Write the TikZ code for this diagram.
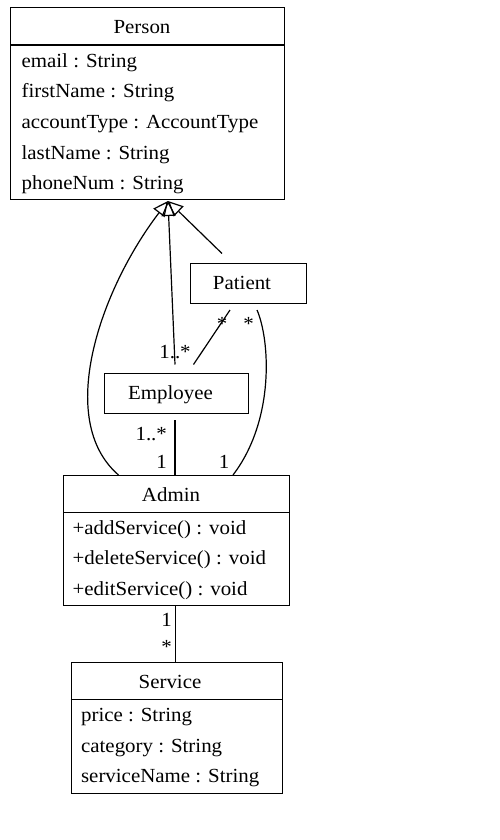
\documentclass[tikz,border=0pt]{standalone}
\usepackage{fontspec}
\setmainfont[FakeStretch=1.045]{Liberation Serif}
\usetikzlibrary{arrows.meta}
\begin{document}
\begin{tikzpicture}[x=1pt,y=-1pt,
 line width=1.2pt,
 cls/.style={draw, line width=1.2pt, inner sep=0, anchor=north west},
 txt/.style={inner sep=0, anchor=base west, font=\fontsize{20}{24}\selectfont},
 ttl/.style={inner sep=0, anchor=base, font=\fontsize{20}{24}\selectfont},
 mult/.style={inner sep=0, anchor=base east, font=\fontsize{20}{24}\selectfont},
 multc/.style={inner sep=0, anchor=base, font=\fontsize{20}{24}\selectfont},
 gen/.style={-{Triangle[open,length=15pt,width=14pt]}},
]
\useasboundingbox[fill=white] (0,0) rectangle (500,840);

% Person
\node[cls, minimum width=274pt, minimum height=192pt] (person) at (10,7) {};
\draw (person.west |- 0,45) -- (person.east |- 0,45);
\node[ttl] (persont) at (142,34) {Person};
\node[txt] (p1) at (21,67.5) {email : String};
\node[txt] (p2) at (21,98) {firstName : String};
\node[txt] (p3) at (21,128.5) {accountType : AccountType};
\node[txt] (p4) at (21,159) {lastName : String};
\node[txt] (p5) at (21,189.5) {phoneNum : String};

% Patient
\node[cls, minimum width=116pt, minimum height=40pt] (patient) at (189.5,262.5) {};
\node[ttl] (patientt) at (242,289) {Patient};

% Employee
\node[cls, minimum width=144pt, minimum height=40pt] (employee) at (104,372.5) {};
\node[ttl] (employeet) at (170.5,399) {Employee};

% Admin
\node[cls, minimum width=226pt, minimum height=130pt] (admin) at (63,475) {};
\draw (admin.west |- 0,512.5) -- (admin.east |- 0,512.5);
\node[ttl] (admint) at (171,501.5) {Admin};
\node[txt] (a1) at (72,534) {+addService() : void};
\node[txt] (a2) at (72,564.5) {+deleteService() : void};
\node[txt] (a3) at (72,595) {+editService() : void};

% Service
\node[cls, minimum width=211pt, minimum height=131pt] (service) at (70.5,661.5) {};
\draw (service.west |- 0,699.5) -- (service.east |- 0,699.5);
\node[ttl] (servicet) at (170,688) {Service};
\node[txt] (s1) at (80.5,721.5) {price : String};
\node[txt] (s2) at (80.5,752) {category : String};
\node[txt] (s3) at (80.5,782.5) {serviceName : String};

% connector end points
\coordinate (tip) at (168,201);
\coordinate (empTop) at (175,364.5);
\coordinate (empTop2) at (193.5,364.5);
\coordinate (patTop) at (222,253.5);
\coordinate (patBotL) at (230,310);
\coordinate (patBotR) at (257,310);
\coordinate (empBot) at (175,420);
\coordinate (admTopL) at (118.5,475);
\coordinate (admTopR) at (233,475);

% generalizations
\draw[gen] (empTop) -- (tip);
\draw[gen] (patTop) -- (tip);
\draw[gen] (admTopL) .. controls (55,420) and (100,290) .. (tip);

% associations
\draw (empTop2) -- (patBotL);
\draw (admTopR) .. controls (275,420) and (270,340) .. (patBotR);
\draw (empBot) -- (admTopL -| empBot);
\draw (admin.south -| 175.7,0) -- (service.north -| 175.7,0);

% multiplicities
\node[multc] (m1) at (175,358) {1..*};
\node[multc] (m2) at (222,330) {*};
\node[multc] (m3) at (248.5,330) {*};
\node[mult] (m4) at (167.5,440) {1..*};
\node[mult] (m5) at (167.5,468) {1};
\node[mult] (m6) at (230,468) {1};
\node[mult] (m7) at (172.5,626) {1};
\node[mult] (m8) at (172.5,653) {*};
\end{tikzpicture}
\end{document}
